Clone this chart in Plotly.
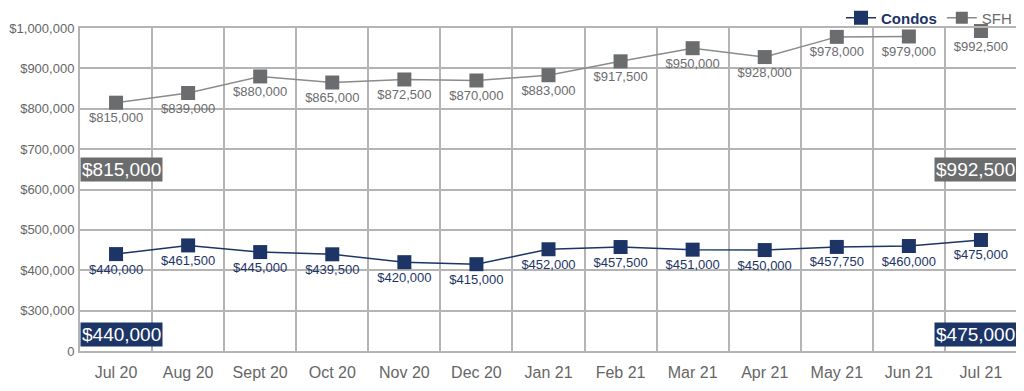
import plotly.graph_objects as go

months = ["Jul 20", "Aug 20", "Sept 20", "Oct 20", "Nov 20", "Dec 20", "Jan 21",
          "Feb 21", "Mar 21", "Apr 21", "May 21", "Jun 21", "Jul 21"]
condos = [440000, 461500, 445000, 439500, 420000, 415000, 452000,
          457500, 451000, 450000, 457750, 460000, 475000]
sfh = [815000, 839000, 880000, 865000, 872500, 870000, 883000,
       917500, 950000, 928000, 978000, 979000, 992500]
y_ticks = [200000, 300000, 400000, 500000, 600000, 700000, 800000, 900000, 1000000]
y_tick_text = ["0", "$300,000", "$400,000", "$500,000", "$600,000", "$700,000",
               "$800,000", "$900,000", "$1,000,000"]

NAVY = "#1c3566"
GRAY = "#6b6c6e"
GRAY_LINE = "#8a8b8d"
GRID = "#b4b4b4"
FONT = "Liberation Sans, Arial, sans-serif"


def money(v):
    return "${:,.0f}".format(v)


fig = go.Figure()

# Condos
fig.add_trace(go.Scatter(
    x=months, y=condos, name="<span style='color:%s'><b>Condos</b></span>" % NAVY,
    mode="lines+markers+text",
    line=dict(color=NAVY, width=1.5),
    marker=dict(symbol="square", size=14, color=NAVY),
    text=[money(v) for v in condos], textposition="bottom center",
    textfont=dict(family=FONT, size=13, color=NAVY),
    cliponaxis=False,
))

# SFH line (no segment to the final month in the original)
fig.add_trace(go.Scatter(
    x=months[:-1], y=sfh[:-1], mode="lines", showlegend=False,
    line=dict(color=GRAY_LINE, width=1.5), hoverinfo="skip",
))
fig.add_trace(go.Scatter(
    x=months, y=sfh, mode="markers+text", showlegend=False,
    marker=dict(symbol="square", size=14, color=GRAY),
    text=[money(v) for v in sfh], textposition="bottom center",
    textfont=dict(family=FONT, size=13, color=GRAY),
    cliponaxis=False,
))
# legend entry for SFH
fig.add_trace(go.Scatter(
    x=[None], y=[None], name="SFH", mode="lines+markers",
    line=dict(color=GRAY_LINE, width=1.5),
    marker=dict(symbol="square", size=12, color=GRAY),
))

# Boxed value annotations
boxes = [
    (-0.5, 649000, money(sfh[0]), GRAY, "left"),
    (12.5, 649000, money(sfh[-1]), GRAY, "right"),
    (-0.5, 242000, money(condos[0]), NAVY, "left"),
    (12.5, 242000, money(condos[-1]), NAVY, "right"),
]
for xv, yv, txt, col, side in boxes:
    fig.add_annotation(
        x=xv, y=yv, xref="x", yref="y",
        text=txt, showarrow=False,
        xanchor=side, yanchor="middle",
        font=dict(family=FONT, size=19, color="white"),
        bgcolor=col, borderpad=1,
    )

# page body has an 8px margin, so the figure is sized to end at the window edge
fig.update_layout(
    width=1016, height=383,
    margin=dict(l=72, r=7, t=20, b=40, autoexpand=False),
    plot_bgcolor="white", paper_bgcolor="white",
    font=dict(family=FONT, color="#666666"),
    showlegend=True,
    legend=dict(orientation="h", x=1.0, xanchor="right", y=0.98, yanchor="bottom",
                font=dict(family=FONT, size=15, color=GRAY),
                bgcolor="rgba(0,0,0,0)", traceorder="normal",
                borderwidth=0, tracegroupgap=0),
)
fig.update_xaxes(
    type="category", range=[-0.5, 12.5], tickson="boundaries",
    showgrid=True, gridcolor=GRID, gridwidth=2,
    showline=True, linecolor=GRID, linewidth=2, mirror=True,
    ticks="", ticklabelstandoff=6,
    tickfont=dict(family=FONT, size=16, color="#666666"),
    automargin=False, fixedrange=True,
)
fig.update_yaxes(
    range=[200000, 1000000], tickvals=y_ticks, ticktext=y_tick_text,
    showgrid=True, gridcolor=GRID, gridwidth=2,
    showline=True, linecolor=GRID, linewidth=2, mirror=True,
    zeroline=False, ticks="", ticklabelstandoff=1,
    tickfont=dict(family=FONT, size=13, color="#666666"),
    automargin=False, fixedrange=True,
)

fig.write_html("out.html")
